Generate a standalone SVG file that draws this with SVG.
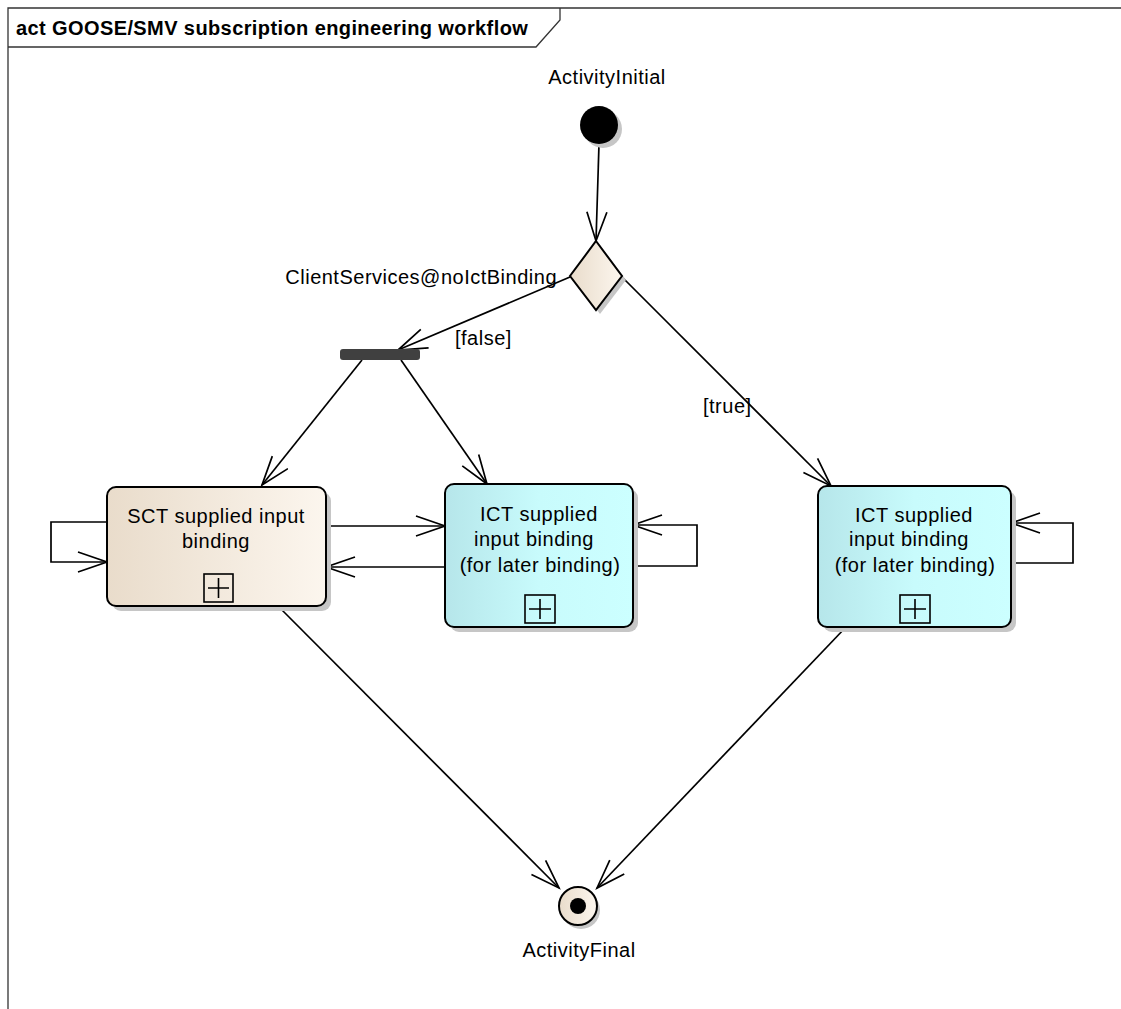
<svg xmlns="http://www.w3.org/2000/svg" width="1121" height="1009" viewBox="0 0 1121 1009">
<style>
text{font-family:"Liberation Sans",Arial,sans-serif;font-size:20px;letter-spacing:0.5px;fill:#000}
.title{font-weight:bold;letter-spacing:0.4px}
.c{text-anchor:middle}
.edge{fill:none;stroke:#000;stroke-width:1.7}
.box{stroke:#000;stroke-width:2}
.shadow{fill:#c6c6c6}
.frame{fill:none;stroke:#333;stroke-width:1.3}
</style>
<defs>
<linearGradient id="gBeige" x1="0" y1="0" x2="1" y2="0">
<stop offset="0" stop-color="#e9dccb"/>
<stop offset="1" stop-color="#fcf6ee"/>
</linearGradient>
<linearGradient id="gCyan" x1="0" y1="0" x2="1" y2="0">
<stop offset="0" stop-color="#b6e6ea"/>
<stop offset="0.5" stop-color="#c8fbfc"/>
<stop offset="1" stop-color="#ccffff"/>
</linearGradient>
<marker id="arr" markerUnits="userSpaceOnUse" markerWidth="34" markerHeight="24" refX="30" refY="11" orient="auto">
<path d="M1,1 L30,11 L1,21" fill="none" stroke="#000" stroke-width="1.7"/>
</marker>
</defs>
<rect width="1121" height="1009" fill="#fff"/>
<g id="frame">
<path class="frame" d="M8,1009 L8,8 L1121,8"/>
<path class="frame" d="M8,47 L536,47 L560,20 L560,8"/>
<text class="title" x="16" y="35">act GOOSE/SMV subscription engineering workflow</text>
</g>
<g id="connectors">
<path class="edge" d="M599,144 L596,241" marker-end="url(#arr)"/>
<path class="edge" d="M570,277 L398,350" marker-end="url(#arr)"/>
<path class="edge" d="M622,277 L831,486" marker-end="url(#arr)"/>
<path class="edge" d="M362,360 L262,485" marker-end="url(#arr)"/>
<path class="edge" d="M401,360 L487,484" marker-end="url(#arr)"/>
<path class="edge" d="M107,522 L51,522 L51,562 L107,562" marker-end="url(#arr)"/>
<path class="edge" d="M326,526 L445,526" marker-end="url(#arr)"/>
<path class="edge" d="M445,567 L326,567" marker-end="url(#arr)"/>
<path class="edge" d="M633,566 L697,566 L697,525 L633,525" marker-end="url(#arr)"/>
<path class="edge" d="M1011,563 L1073,563 L1073,523 L1011,523" marker-end="url(#arr)"/>
<path class="edge" d="M278,606 L559,888" marker-end="url(#arr)"/>
<path class="edge" d="M846,627 L597,888" marker-end="url(#arr)"/>
<text x="455" y="345">[false]</text>
<text x="703" y="413">[true]</text>
</g>
<g id="initial">
<circle cx="603" cy="129" r="19" class="shadow"/>
<circle cx="599" cy="125" r="19" fill="#000"/>
<text class="c" x="607" y="84">ActivityInitial</text>
</g>
<g id="decision">
<path d="M600,245 L626,280 L600,314 L574,280 Z" class="shadow"/>
<path d="M596,241 L622,276 L596,310 L570,276 Z" fill="url(#gBeige)" class="box"/>
<text x="557" y="284" style="text-anchor:end">ClientServices@noIctBinding</text>
</g>
<g id="fork">
<rect x="340" y="349" width="80" height="11" rx="3" fill="#404040"/>
</g>
<g id="sct">
<rect x="112" y="492" width="219" height="119" rx="9" class="shadow"/>
<rect x="107" y="487" width="219" height="119" rx="9" fill="url(#gBeige)" class="box"/>
<text class="c" x="216" y="523">SCT supplied input</text>
<text class="c" x="216" y="548">binding</text>
<rect x="204" y="574" width="29" height="28" fill="none" stroke="#000" stroke-width="1.6"/>
<path d="M208,588 L229,588 M218.5,578 L218.5,598" stroke="#000" stroke-width="1.6"/>
</g>
<g id="ict1">
<rect x="450" y="489" width="188" height="143" rx="9" class="shadow"/>
<rect x="445" y="484" width="188" height="143" rx="9" fill="url(#gCyan)" class="box"/>
<text class="c" x="539" y="521">ICT supplied</text>
<text class="c" x="534" y="546">input binding</text>
<text class="c" x="540" y="572">(for later binding)</text>
<rect x="525" y="595" width="30" height="28" fill="none" stroke="#000" stroke-width="1.6"/>
<path d="M529,609 L551,609 M540,599 L540,619" stroke="#000" stroke-width="1.6"/>
</g>
<g id="ict2">
<rect x="823" y="491" width="193" height="141" rx="9" class="shadow"/>
<rect x="818" y="486" width="193" height="141" rx="9" fill="url(#gCyan)" class="box"/>
<text class="c" x="914" y="522">ICT supplied</text>
<text class="c" x="909" y="546">input binding</text>
<text class="c" x="915" y="572">(for later binding)</text>
<rect x="900" y="595" width="30" height="28" fill="none" stroke="#000" stroke-width="1.6"/>
<path d="M904,609 L926,609 M915,599 L915,619" stroke="#000" stroke-width="1.6"/>
</g>
<g id="final">
<circle cx="581" cy="910" r="19" class="shadow"/>
<circle cx="578" cy="906" r="19" fill="url(#gBeige)" stroke="#000" stroke-width="2"/>
<circle cx="578" cy="906" r="8" fill="#000"/>
<text class="c" x="579" y="957">ActivityFinal</text>
</g>
</svg>
